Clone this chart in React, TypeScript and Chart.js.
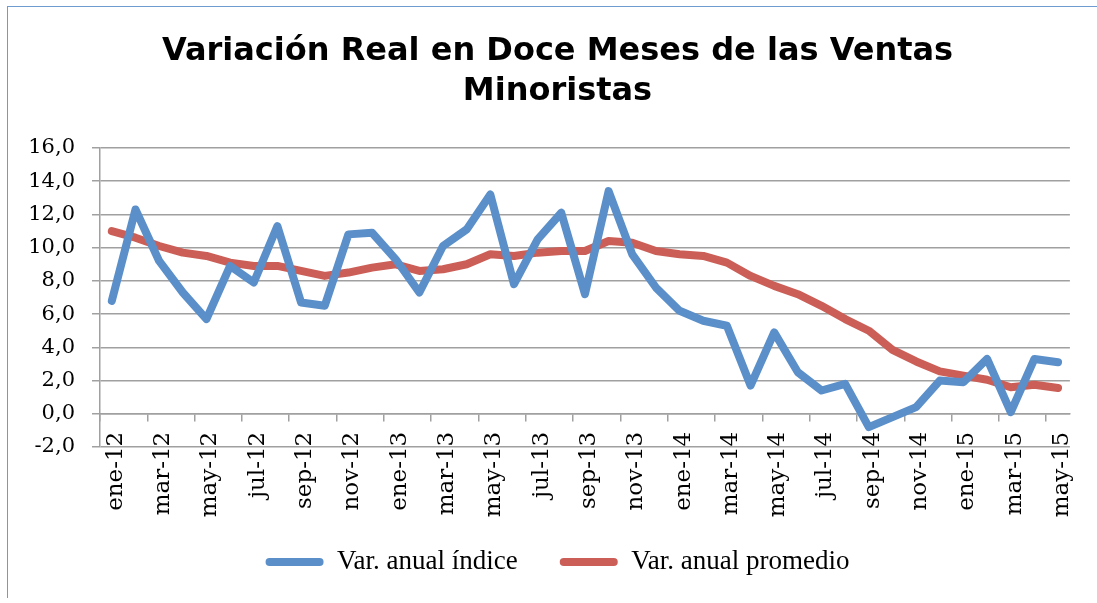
import { useEffect, useRef } from 'react';
import { Chart, registerables } from 'chart.js';

Chart.register(...registerables);

const categories = [
  'ene-12', 'feb-12', 'mar-12', 'abr-12', 'may-12', 'jun-12', 'jul-12', 'ago-12', 'sep-12', 'oct-12', 'nov-12', 'dic-12',
  'ene-13', 'feb-13', 'mar-13', 'abr-13', 'may-13', 'jun-13', 'jul-13', 'ago-13', 'sep-13', 'oct-13', 'nov-13', 'dic-13',
  'ene-14', 'feb-14', 'mar-14', 'abr-14', 'may-14', 'jun-14', 'jul-14', 'ago-14', 'sep-14', 'oct-14', 'nov-14', 'dic-14',
  'ene-15', 'feb-15', 'mar-15', 'abr-15', 'may-15',
];

const varAnualIndice = [
  6.8, 12.3, 9.2, 7.3, 5.7, 8.9, 7.9, 11.3, 6.7, 6.5, 10.8, 10.9,
  9.3, 7.3, 10.1, 11.1, 13.2, 7.8, 10.5, 12.1, 7.2, 13.4, 9.6, 7.6,
  6.2, 5.6, 5.3, 1.7, 4.9, 2.5, 1.4, 1.8, -0.8, -0.2, 0.4, 2.0,
  1.9, 3.3, 0.1, 3.3, 3.1,
];

const varAnualPromedio = [
  11.0, 10.6, 10.1, 9.7, 9.5, 9.1, 8.9, 8.9, 8.6, 8.3, 8.5, 8.8,
  9.0, 8.6, 8.7, 9.0, 9.6, 9.5, 9.7, 9.8, 9.8, 10.4, 10.3, 9.8,
  9.6, 9.5, 9.1, 8.3, 7.7, 7.2, 6.5, 5.7, 5.0, 3.85, 3.15, 2.55,
  2.3, 2.05, 1.6, 1.75, 1.55,
];

const seriesNames = ['Var. anual índice', 'Var. anual promedio'];
const titleLines = ['Variación Real en Doce Meses de las Ventas', 'Minoristas'];
const yMin = -2;
const yMax = 16;
const yStep = 2;

const GRID = '#A0A0A0';
const BLUE = '#5A8FCA';
const RED = '#CB5F57';

export default function App() {
  const canvasRef = useRef<HTMLCanvasElement | null>(null);

  useEffect(() => {
    const canvas = canvasRef.current;
    if (!canvas) return;
    const chart = new Chart(canvas, {
      type: 'line',
      data: {
        labels: categories,
        datasets: [
          {
            label: seriesNames[0],
            data: varAnualIndice,
            borderColor: BLUE,
            backgroundColor: BLUE,
            borderWidth: 8,
            pointRadius: 0,
            tension: 0,
            borderJoinStyle: 'round',
            borderCapStyle: 'round',
          },
          {
            label: seriesNames[1],
            data: varAnualPromedio,
            borderColor: RED,
            backgroundColor: RED,
            borderWidth: 8,
            pointRadius: 0,
            tension: 0,
            borderJoinStyle: 'round',
            borderCapStyle: 'round',
          },
        ],
      },
      options: {
        responsive: false,
        animation: false,
        devicePixelRatio: 1,
        layout: { padding: { left: 18, right: 8, top: 0, bottom: 11.5 } },
        plugins: {
          tooltip: { enabled: false },
          title: {
            display: true,
            text: titleLines,
            color: '#000',
            font: { family: 'DejaVu Sans', size: 32, weight: 'bold', lineHeight: 1.25 },
            padding: { top: 25, bottom: 36 },
          },
          legend: {
            position: 'bottom',
            labels: {
              color: '#000',
              font: { family: 'Liberation Serif', size: 27 },
              boxWidth: 58,
              boxHeight: 8,
              padding: 42,
              useBorderRadius: true,
              borderRadius: 4,
              generateLabels: (c: any) =>
                c.data.datasets.map((ds: any, i: number) => ({
                  text: ds.label,
                  fillStyle: ds.borderColor,
                  strokeStyle: ds.borderColor,
                  lineWidth: 0,
                  hidden: false,
                  datasetIndex: i,
                  borderRadius: 4,
                })),
            },
          },
        },
        scales: {
          x: {
            type: 'category',
            position: { y: 0 } as any,
            offset: true,
            grid: {
              offset: true,
              drawOnChartArea: false,
              drawTicks: true,
              tickLength: 7,
              lineWidth: 1.5,
              color: GRID,
              tickColor: (ctx: any) => (ctx.index !== undefined && ctx.index % 2 === 0 ? GRID : 'rgba(0,0,0,0)'),
            },
            border: { display: true, color: GRID, width: 1.5 },
            ticks: {
              autoSkip: false,
              maxRotation: 90,
              minRotation: 90,
              padding: 11,
              labelOffset: 4,
              color: '#000',
              font: { family: 'DejaVu Serif', size: 23 },
              callback: (_v: any, idx: number) => (idx % 2 === 0 ? categories[idx] : ''),
            },
          },
          xSpace: {
            type: 'category',
            position: 'bottom',
            display: true,
            afterFit: (scale: any) => {
              scale.height = 59.5;
            },
            grid: { display: false, drawTicks: false },
            border: { display: false },
            ticks: { display: false },
          },
          y: {
            min: yMin,
            max: yMax,
            afterFit: (scale: any) => {
              scale.width = 74;
            },
            grid: {
              color: GRID,
              lineWidth: 1.5,
              drawTicks: true,
              tickLength: 8,
            },
            border: { display: true, color: GRID, width: 1.5 },
            ticks: {
              stepSize: yStep,
              padding: 17,
              color: '#000',
              font: { family: 'DejaVu Serif', size: 21 },
              callback: (v: any) => Number(v).toFixed(1).replace('.', ','),
            },
          },
          ySpace: {
            type: 'linear',
            position: 'right',
            display: true,
            afterFit: (scale: any) => {
              scale.width = 16;
            },
            grid: { display: false, drawTicks: false },
            border: { display: false },
            ticks: { display: false },
          },
        },
      },
    });
    return () => chart.destroy();
  }, []);

  return (
    <div
      style={{
        position: 'absolute',
        left: 7,
        top: 6,
        width: 1090,
        height: 591,
        borderLeft: '1px solid #6E9BD0',
        borderTop: '1px solid #6E9BD0',
        background: '#fff',
      }}
    >
      <canvas ref={canvasRef} width={1089} height={590} style={{ display: 'block', width: 1089, height: 590 }} />
    </div>
  );
}
